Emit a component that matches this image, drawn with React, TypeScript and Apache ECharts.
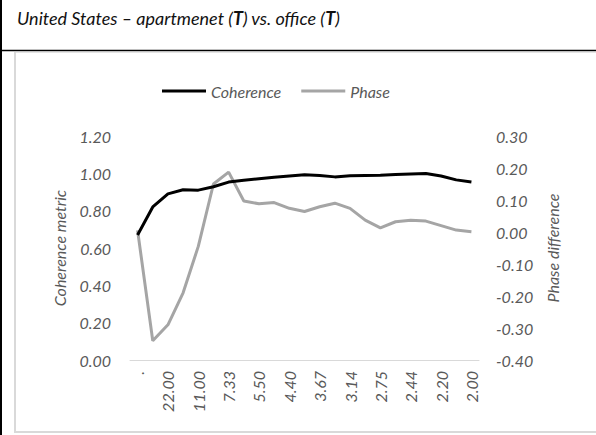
import React, { useEffect, useRef } from "react";
import * as echarts from "echarts";

const categories = [".", "44.00", "22.00", "14.67", "11.00", "8.80", "7.33", "6.29", "5.50", "4.89", "4.40", "4.00", "3.67", "3.38", "3.14", "2.93", "2.75", "2.59", "2.44", "2.32", "2.20", "2.10", "2.00"];
const coherence = [0.67, 0.82, 0.89, 0.912, 0.91, 0.928, 0.953, 0.963, 0.971, 0.979, 0.986, 0.992, 0.989, 0.981, 0.987, 0.989, 0.99, 0.994, 0.997, 0.999, 0.986, 0.965, 0.953];
const phase = [0.005, -0.34, -0.29, -0.19, -0.045, 0.15, 0.187, 0.097, 0.088, 0.092, 0.074, 0.064, 0.079, 0.09, 0.074, 0.037, 0.013, 0.032, 0.037, 0.034, 0.02, 0.006, 0.001];

const FONT = "Lato, 'Open Sans', sans-serif";
const GRAY = "#595959";

const fmt = (v: number) => {
  const r = Math.abs(v) < 1e-9 ? 0 : v;
  return r.toFixed(2);
};

export default function App() {
  const ref = useRef<HTMLDivElement>(null);
  useEffect(() => {
    document.body.style.margin = "0";
    if (!ref.current) return;
    const chart = echarts.init(ref.current, null, { renderer: "svg" });
    const txt = { fontFamily: FONT, fontStyle: "italic", fontWeight: "normal", fontSize: 16, color: GRAY };
    chart.setOption({
      animation: false,
      backgroundColor: "#fff",
      title: {
        text: "{i|United States – apartmenet (}{b|T}{i|) vs. office (}{b|T}{i|)}",
        left: 12,
        top: 4,
        textStyle: {
          fontWeight: "normal",
          fontStyle: "italic",
          rich: {
            i: { fontFamily: FONT, fontStyle: "italic", fontWeight: "normal", fontSize: 18, color: "#111" },
            b: { fontFamily: FONT, fontStyle: "italic", fontWeight: "bold", fontSize: 18, color: "#111" },
          },
        },
      },
      graphic: [
        { type: "line", shape: { x1: 1, y1: 0, x2: 1, y2: 435 }, style: { stroke: "#000", lineWidth: 2 } },
        { type: "line", shape: { x1: 0, y1: 50.5, x2: 596, y2: 50.5 }, style: { stroke: "#000", lineWidth: 1.5 } },
        { type: "line", shape: { x1: 15, y1: 52.5, x2: 596, y2: 52.5 }, style: { stroke: "#e4e4e4", lineWidth: 1 } },
        { type: "line", shape: { x1: 15, y1: 52, x2: 15, y2: 432 }, style: { stroke: "#d9d9d9", lineWidth: 2 } },
        { type: "line", shape: { x1: 14, y1: 432, x2: 596, y2: 432 }, style: { stroke: "#d9d9d9", lineWidth: 2 } },
      ],
      legend: {
        top: 78,
        left: 157,
        icon: "rect",
        itemWidth: 44,
        itemHeight: 3,
        itemGap: 20,
        textStyle: txt,
        data: ["Coherence", "Phase"],
      },
      grid: { left: 130, right: 117, top: 136, bottom: 75 },
      xAxis: {
        type: "category",
        data: categories,
        boundaryGap: true,
        axisTick: { show: false },
        axisLine: { lineStyle: { color: "#d9d9d9", width: 1 } },
        axisLabel: { interval: 1, rotate: 90, margin: 11, ...txt },
      },
      yAxis: [
        {
          type: "value",
          min: 0,
          max: 1.2,
          interval: 0.2,
          name: "Coherence metric",
          nameLocation: "middle",
          nameRotate: 90,
          nameGap: 63,
          nameTextStyle: txt,
          axisLine: { show: false },
          axisTick: { show: false },
          splitLine: { show: false },
          axisLabel: { margin: 19, formatter: fmt, ...txt },
        },
        {
          type: "value",
          min: -0.4,
          max: 0.3,
          interval: 0.1,
          position: "right",
          name: "Phase difference",
          nameLocation: "middle",
          nameRotate: 90,
          nameGap: 62,
          nameTextStyle: txt,
          axisLine: { show: false },
          axisTick: { show: false },
          splitLine: { show: false },
          axisLabel: { margin: 17, formatter: fmt, ...txt },
        },
      ],
      series: [
        {
          name: "Coherence",
          type: "line",
          yAxisIndex: 0,
          data: coherence,
          symbol: "none",
          lineStyle: { color: "#000", width: 3 },
          itemStyle: { color: "#000" },
          z: 3,
        },
        {
          name: "Phase",
          type: "line",
          yAxisIndex: 1,
          data: phase,
          symbol: "none",
          lineStyle: { color: "#a5a5a5", width: 3 },
          itemStyle: { color: "#a5a5a5" },
          z: 2,
        },
      ],
    });
    return () => chart.dispose();
  }, []);
  return <div ref={ref} style={{ width: 596, height: 435 }} />;
}
